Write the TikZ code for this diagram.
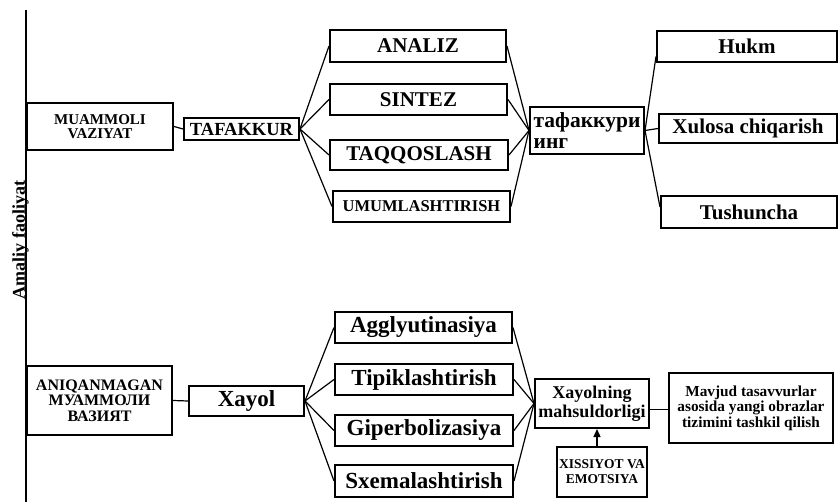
\documentclass[tikz,border=0pt]{standalone}
\usepackage{fontspec}
\setmainfont{Liberation Serif}
\usepackage{tikz}
\usetikzlibrary{arrows.meta}

\tikzset{
  box/.style={rectangle, draw=black, line width=2pt, inner sep=1pt, align=center},
  link/.style={line width=1.2pt},
  bigtext/.style={font=\bfseries\fontsize{21}{24}\selectfont},
  lowtext/.style={font=\bfseries\fontsize{23}{24}\selectfont},
}

\begin{document}
\begin{tikzpicture}[x=1pt, y=-1pt]
        \useasboundingbox (0,0) rectangle (838,502);

        %% Axis
        \coordinate (axistop) at (26,10);
        \coordinate (axisbottom) at (26,502);
        \draw [line width=1.6pt] (axistop) -- (axisbottom);
        \node (amaliy) [rotate=90, font=\bfseries\fontsize{18}{20}\selectfont] at (20.5,240) {Amaliy faoliyat};

        %% Thinking
        \node (muammoli) [box, minimum width=146pt, minimum height=47pt, font=\bfseries\fontsize{15}{14}\selectfont] at (100,126.5) {MUAMMOLI\\VAZIYAT};
        \node (tafakkur) [box, minimum width=115pt, minimum height=22pt, font=\bfseries\fontsize{18.5}{18}\selectfont] at (241.5,129) {TAFAKKUR};

        \node (analiz) [box, bigtext, minimum width=176pt, minimum height=32pt] at (418,46) {ANALIZ};
        \node (sintez) [box, bigtext, minimum width=177pt, minimum height=31pt] at (418.5,99.5) {SINTEZ};
        \node (taqqos) [box, bigtext, minimum width=178pt, minimum height=30pt] at (419,155) {TAQQOSLASH};
        \node (umum) [box, minimum width=177pt, minimum height=31pt, font=\bfseries\fontsize{16.5}{16}\selectfont] at (421.5,206.5) {UMUMLASHTIRISH};

        \node (tafakkurning) [box, align=left, inner sep=2pt, minimum width=114pt, minimum height=47pt, font=\bfseries\fontsize{21.5}{21}\selectfont] at (587,130.5) {тафаккури\\инг};

        \node (hukm) [box, bigtext, minimum width=180pt, minimum height=31pt] at (747,46.5) {Hukm};
        \node (xulosa) [box, bigtext, minimum width=178pt, minimum height=29pt] at (748,128.5) {Xulosa chiqarish};
        \node (tushuncha) [box, bigtext, minimum width=176pt, minimum height=32pt] at (749,212) {Tushuncha};

        %% Imagination
        \node (aniq) [box, minimum width=145pt, minimum height=69pt, font=\bfseries\fontsize{16}{15.5}\selectfont] at (99.5,400.5) {ANIQANMAGAN\\МУАММОЛИ\\ВАЗИЯТ};
        \node (xayol) [box, lowtext, minimum width=115pt, minimum height=30pt] at (246.5,401) {Xayol};

        \node (aggl) [box, lowtext, minimum width=177pt, minimum height=31pt] at (423.5,327.5) {Agglyutinasiya};
        \node (tipik) [box, lowtext, minimum width=178pt, minimum height=31pt] at (424,379.5) {Tipiklashtirish};
        \node (giper) [box, lowtext, minimum width=178pt, minimum height=31pt] at (424,430.5) {Giperbolizasiya};
        \node (sxema) [box, lowtext, minimum width=178pt, minimum height=32pt] at (424,481) {Sxemalashtirish};

        \node (mahsul) [box, minimum width=114pt, minimum height=49pt, font=\bfseries\fontsize{18}{19}\selectfont] at (592,403.5) {Xayolning\\mahsuldorligi};
        \node (mavjud) [box, minimum width=164pt, minimum height=70pt, font=\bfseries\fontsize{15.3}{15.5}\selectfont] at (751,408) {Mavjud tasavvurlar\\asosida yangi obrazlar\\tizimini tashkil qilish};
        \node (xissiyot) [box, minimum width=90pt, minimum height=50pt, font=\bfseries\fontsize{13.5}{15}\selectfont] at (602,472) {XISSIYOT VA\\EMOTSIYA};

        %% Links, thinking
        \draw [link] (muammoli.east) -- (tafakkur.west);
        \foreach \n in {analiz, sintez, taqqos, umum} {
            \draw [link] (tafakkur.east) -- (\n.west);
            \draw [link] (\n.east) -- (tafakkurning.west);
        }
        \draw [link] (tafakkurning.east) -- ([yshift=-10pt]hukm.west);
        \draw [link] (tafakkurning.east) -- (xulosa.west);
        \draw [link] (tafakkurning.east) -- ([yshift=5pt]tushuncha.west);

        %% Links, imagination
        \draw [link] (aniq.east) -- (xayol.west);
        \foreach \n in {aggl, tipik, giper, sxema} {
            \draw [link] (xayol.east) -- (\n.west);
            \draw [link] (\n.east) -- (mahsul.west);
        }
        \draw [link] ([yshift=-6pt]mahsul.east) -- ([yshift=-6pt]mahsul.east -| mavjud.west);
        \draw [link, -{Triangle[width=7pt, length=8pt]}] ([xshift=-5pt]xissiyot.north) -- ([xshift=-5pt]xissiyot.north |- mahsul.south);

\end{tikzpicture}
\end{document}
